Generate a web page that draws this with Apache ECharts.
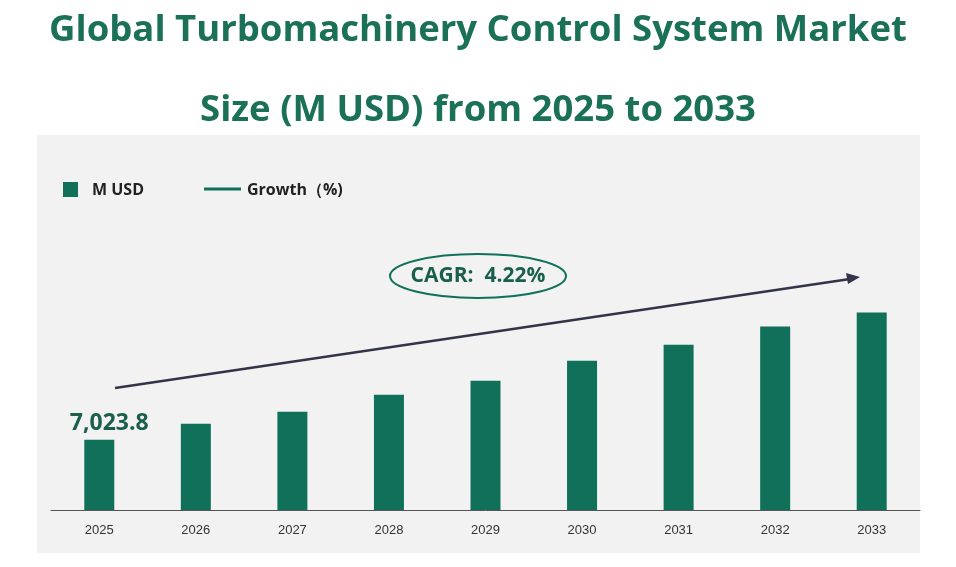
<!DOCTYPE html>
<html><head><meta charset="utf-8">
<script src="https://cdn.jsdelivr.net/npm/echarts@6/dist/echarts.min.js"></script>
<style>html,body{margin:0;padding:0;background:#fff}#c{width:956px;height:567px}</style>
</head><body><div id="c"></div>
<script>
const years = ['2025','2026','2027','2028','2029','2030','2031','2032','2033'];
const marketSize = [7023.8, 7371, 7631, 7999, 8303, 8736, 9083, 9474, 9777];
const legendNames = ['M USD', 'Growth（%)'];
const cagrText = 'CAGR:  4.22%';
const green = '#10705a';
const chart = echarts.init(document.getElementById('c'));
chart.setOption({
  backgroundColor: '#fff',
  title: {
    text: 'Global Turbomachinery Control System Market\n\nSize (M USD) from 2025 to 2033',
    left: 'center', top: 6,
    textStyle: {color: '#1a7158', fontSize: 36.5, fontWeight: 'bold', fontFamily: 'Open Sans', lineHeight: 40}
  },
  graphic: [
    {type: 'rect', z: -10, shape: {x: 37, y: 135, width: 883, height: 418}, style: {fill: '#f2f2f2'}},
    {type: 'rect', z: 10, shape: {x: 63, y: 182, width: 15, height: 15}, style: {fill: green}},
    {type: 'text', z: 10, x: 92, y: 190, style: {text: legendNames[0], verticalAlign: 'middle', fontSize: 16, fontWeight: 'bold', fill: '#222', fontFamily: 'Open Sans'}},
    {type: 'line', z: 10, shape: {x1: 204, y1: 189, x2: 241, y2: 189}, style: {stroke: green, lineWidth: 3}},
    {type: 'text', z: 10, x: 247, y: 190, style: {text: legendNames[1], verticalAlign: 'middle', fontSize: 16, fontWeight: 'bold', fill: '#222', fontFamily: 'Open Sans'}},
    {type: 'line', z: 10, shape: {x1: 115, y1: 388, x2: 850, y2: 279}, style: {stroke: '#33334a', lineWidth: 2.5}},
    {type: 'polygon', z: 10, shape: {points: [[860, 277], [846, 273], [848, 284]]}, style: {fill: '#33334a'}},
    {type: 'ellipse', z: 10, shape: {cx: 478, cy: 276, rx: 88, ry: 22}, style: {fill: '#f2f2f2', stroke: green, lineWidth: 2}},
    {type: 'text', z: 11, x: 478, y: 276, style: {text: cagrText, align: 'center', verticalAlign: 'middle', fontSize: 21, fontWeight: 'bold', fill: '#1a5e4c', fontFamily: 'Open Sans'}}
  ],
  grid: {left: 51, right: 36, top: 210, bottom: 57},
  xAxis: {
    type: 'category', data: years,
    axisLine: {lineStyle: {color: '#555'}}, axisTick: {show: false},
    axisLabel: {color: '#333', fontSize: 13, margin: 14}
  },
  yAxis: {type: 'value', min: 5500, max: 12000, show: false, splitLine: {show: false}},
  series: [
    {name: 'M USD', type: 'bar', barWidth: 30, itemStyle: {color: green},
      data: marketSize.map((v, i) => i === 0 ? {value: v, label: {show: true, position: 'top', offset: [10, 0], formatter: '7,023.8', fontSize: 23, fontWeight: 'bold', color: '#1a5e4c', fontFamily: 'Open Sans'}} : v)}
  ]
});
</script></body></html>
